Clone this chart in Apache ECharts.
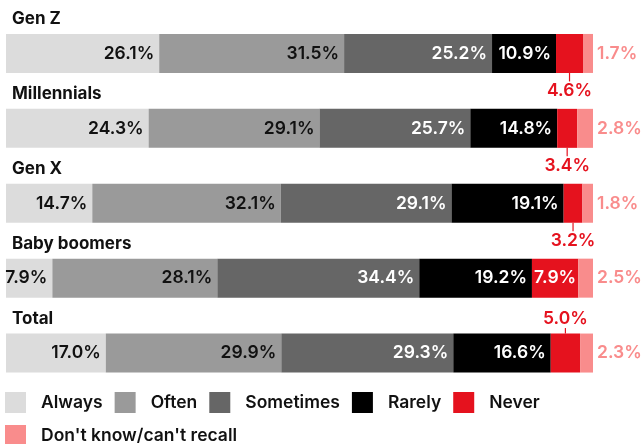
<!DOCTYPE html>
<html><head><meta charset="utf-8">
<script src="https://cdn.jsdelivr.net/npm/echarts@6/dist/echarts.min.js"></script>
<style>html,body{margin:0;padding:0;background:#fff}#c{width:641px;height:444px}</style>
</head><body><div id="c"></div>
<script>
const categories = ['Gen Z', 'Millennials', 'Gen X', 'Baby boomers', 'Total'];
const seriesNames = ['Always', 'Often', 'Sometimes', 'Rarely', 'Never', "Don't know/can't recall"];
const always    = [26.1, 24.3, 14.7, 7.9, 17.0];
const often     = [31.5, 29.1, 32.1, 28.1, 29.9];
const sometimes = [25.2, 25.7, 29.1, 34.4, 29.3];
const rarely    = [10.9, 14.8, 19.1, 19.2, 16.6];
const never     = [4.6, 3.4, 3.2, 7.9, 5.0];
const dontKnow  = [1.7, 2.8, 1.8, 2.5, 2.3];

const FONT = 'Inter';
const colors = ['#dcdcdc', '#9a9a9a', '#666666', '#000000', '#e5121e', '#f98c8c'];
const fmt = p => p.value.toFixed(1) + '%';
const labelBase = {show: true, position: 'insideRight', distance: 5, fontFamily: FONT, fontSize: 17.5, fontWeight: 600, formatter: fmt};

function mk(name, data, color, labelColor) {
  return {
    name, type: 'bar', stack: 'all', data, barWidth: 39,
    itemStyle: {color},
    label: Object.assign({}, labelBase, {color: labelColor}),
    emphasis: {disabled: true}
  };
}

const neverData = never.map((v, i) => ({value: v, label: {color: i === 3 ? '#ffffff' : '#e5121e'}}));
const neverSeries = mk('Never', neverData, colors[4], '#e5121e');
neverSeries.label.position = 'inside';
neverSeries.labelLine = {show: true, length2: 0, lineStyle: {color: '#e5121e', width: 1.2}};
neverSeries.labelLayout = function (p) {
  if (p.dataIndex === 3) return {};
  if (p.dataIndex === 4) return {dy: -34};
  return {dy: 37};
};

const dkSeries = mk("Don't know/can't recall", dontKnow, colors[5], '#f98c8c');
dkSeries.label.position = 'right';
dkSeries.label.distance = 4;

const chart = echarts.init(document.getElementById('c'), null, {renderer: 'canvas'});
chart.setOption({
  animation: false,
  grid: {left: 6, width: 587, top: 16, height: 374.5, containLabel: false},
  xAxis: {type: 'value', min: 0, max: 100, show: false},
  yAxis: {
    type: 'category', inverse: true, data: categories,
    axisLine: {show: false}, axisTick: {show: false}, splitLine: {show: false},
    axisLabel: {inside: true, margin: 6, align: 'left', verticalAlign: 'bottom', padding: [0, 0, 26, 0],
      fontFamily: FONT, fontSize: 17, fontWeight: 700, color: '#111'}
  },
  legend: {
    left: 5, top: 392, width: 600, padding: 0, itemWidth: 21, itemHeight: 21, itemGap: 12, icon: 'rect',
    data: seriesNames,
    textStyle: {fontFamily: FONT, fontSize: 17.5, fontWeight: 600, color: '#111', padding: [0, 0, 0, 10]}
  },
  series: [
    mk('Always', always, colors[0], '#111'),
    mk('Often', often, colors[1], '#111'),
    mk('Sometimes', sometimes, colors[2], '#fff'),
    mk('Rarely', rarely, colors[3], '#fff'),
    neverSeries,
    dkSeries
  ]
});
</script></body></html>
